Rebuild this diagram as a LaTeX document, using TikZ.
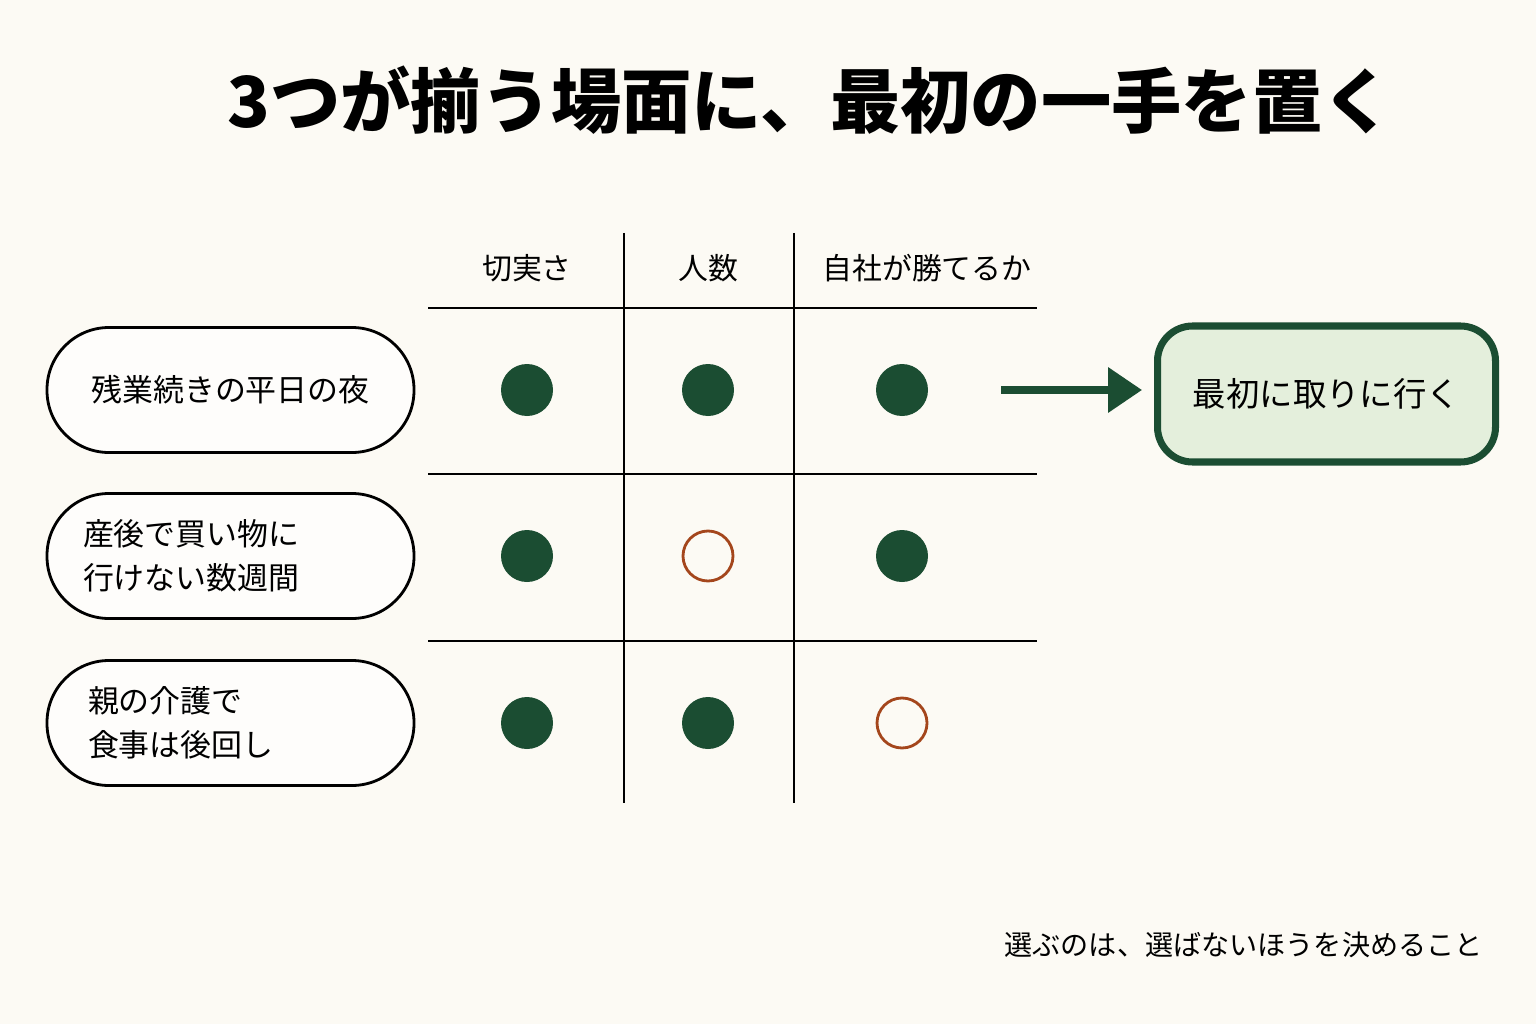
\documentclass[tikz,border=0pt]{standalone}
\usepackage{fontspec}
\setmainfont{Noto Sans CJK JP}
\usetikzlibrary{arrows.meta, positioning}
\definecolor{paper}{HTML}{FCFAF4}
\definecolor{deepgreen}{HTML}{1B4D32}
\definecolor{palegreen}{HTML}{E4EFDC}
\definecolor{rust}{HTML}{A4461C}

\begin{document}
\begin{tikzpicture}[
    pill/.style={draw, line width=0.8pt, rounded corners=0.62cm,
                 minimum width=3.67cm, minimum height=1.25cm,
                 fill=white!60!paper, font=\fontsize{8.8}{12.5}\selectfont, align=left},
    hdr/.style={font=\fontsize{8.5}{10}\selectfont},
    grid/.style={line width=0.6pt},
    dot/.style={circle, fill=deepgreen, minimum size=0.52cm, inner sep=0pt},
    hole/.style={circle, draw=rust, line width=0.8pt, minimum size=0.5cm, inner sep=0pt},
    goal/.style={draw=deepgreen, line width=2pt, rounded corners=0.35cm,
                 fill=palegreen, minimum width=3.38cm, minimum height=1.36cm,
                 font=\fontsize{9.5}{12}\selectfont}
  ]
    \fill[paper] (0,0) rectangle (15.36,10.24);
    \useasboundingbox (0,0) rectangle (15.36,10.24);

    \node[font=\fontsize{20}{24}\selectfont\bfseries] (title) at (8.1,9.24)
      {3つが揃う場面に、最初の一手を置く};

    % column heads
    \node[hdr] (hurry) at (5.27,7.56) {切実さ};
    \node[hdr] (heads) at (7.08,7.56) {人数};
    \node[hdr] (edge)  at (9.27,7.56) {自社が勝てるか};

    % grid
    \draw[grid] (4.28,7.16) -- (10.37,7.16);
    \draw[grid] (4.28,5.50) -- (10.37,5.50);
    \draw[grid] (4.28,3.83) -- (10.37,3.83);
    \draw[grid] (6.24,7.91) -- (6.24,2.21);
    \draw[grid] (7.94,7.91) -- (7.94,2.21);

    % scenes
    \node[pill] (night) at (2.305,6.34) {残業続きの平日の夜};
    \node[pill, text width=2.95cm] (birth) at (2.305,4.68) {産後で買い物に\\行けない数週間};
    \node[pill, text width=2.85cm] (care)  at (2.305,3.01) {親の介護で\\食事は後回し};

    \node[dot]  (a1) at (5.27,6.34) {};
    \node[dot]  (a2) at (7.08,6.34) {};
    \node[dot]  (a3) at (9.02,6.34) {};
    \node[dot]  (b1) at (5.27,4.68) {};
    \node[hole] (b2) at (7.08,4.68) {};
    \node[dot]  (b3) at (9.02,4.68) {};
    \node[dot]  (c1) at (5.27,3.01) {};
    \node[dot]  (c2) at (7.08,3.01) {};
    \node[hole] (c3) at (9.02,3.01) {};

    \node[goal] (first) at (13.265,6.30) {最初に取りに行く};
    \coordinate (start) at (10.01,6.34);
    \coordinate (tip)   at (11.42,6.34);
    \draw[line width=2pt, deepgreen, -{Triangle[length=0.34cm, width=0.44cm]}]
      (start) -- (tip);

    \node[font=\fontsize{8}{9}\selectfont, anchor=east] (motto) at (14.95,0.79)
      {選ぶのは、選ばないほうを決めること};
\end{tikzpicture}
\end{document}
